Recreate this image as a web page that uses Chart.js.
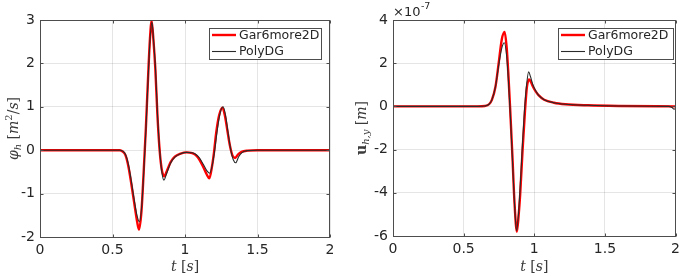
<!DOCTYPE html>
<html><head><meta charset="utf-8">
<script src="https://cdn.jsdelivr.net/npm/chart.js@4.4.1/dist/chart.umd.min.js"></script>
<style>
html,body{margin:0;padding:0;background:#fff;width:685px;height:276px;overflow:hidden}
.box{position:absolute;top:0;height:276px;width:340px}
</style></head><body>
<div class="box" style="left:0"><canvas id="c1"></canvas></div>
<div class="box" style="left:345px"><canvas id="c2"></canvas></div>
<script>
// ---- data ----
const seriesNames = ['Gar6more2D', 'PolyDG'];
const xTicks = [0, 0.5, 1, 1.5, 2];
const phiTicks = [-2, -1, 0, 1, 2, 3];
const uTicks = [-6, -4, -2, 0, 2, 4];      // in units of 1e-7 m
const uExponent = '-7';

// left panel: phi_h [m^2/s]
const tPhiGar = [0,0.5,0.55,0.57,0.59,0.61,0.63,0.65,0.67,0.683,0.70,0.715,0.73,0.745,0.758,0.77,0.782,0.795,0.81,0.825,0.84,0.857,0.875,0.9,0.93,0.97,1.01,1.05,1.08,1.1,1.125,1.15,1.168,1.185,1.2,1.215,1.235,1.258,1.275,1.29,1.31,1.328,1.345,1.365,1.39,1.43,1.5,2.0];
const phiGar  = [0,0,0,-0.03,-0.12,-0.38,-0.78,-1.22,-1.65,-1.83,-1.4,-0.5,0.5,1.65,2.55,2.98,2.55,1.9,0.8,0.0,-0.45,-0.6,-0.48,-0.28,-0.15,-0.08,-0.05,-0.07,-0.13,-0.22,-0.38,-0.56,-0.65,-0.4,-0.05,0.4,0.8,0.98,0.8,0.5,0.1,-0.13,-0.18,-0.1,-0.04,-0.01,0,0];
const tPhiPoly = [0,0.5,0.55,0.57,0.59,0.61,0.63,0.65,0.67,0.686,0.70,0.715,0.73,0.745,0.758,0.772,0.785,0.797,0.81,0.825,0.84,0.855,0.872,0.9,0.93,0.97,1.01,1.05,1.08,1.1,1.125,1.15,1.17,1.188,1.205,1.22,1.24,1.263,1.28,1.295,1.315,1.333,1.35,1.37,1.395,1.43,1.5,2.0];
const phiPoly  = [0,0,0,-0.02,-0.1,-0.33,-0.72,-1.15,-1.52,-1.65,-1.35,-0.55,0.45,1.6,2.5,2.95,2.45,1.85,0.85,0.02,-0.5,-0.69,-0.55,-0.3,-0.16,-0.08,-0.05,-0.06,-0.11,-0.18,-0.32,-0.47,-0.53,-0.35,0.0,0.4,0.82,1.0,0.8,0.45,0.02,-0.22,-0.29,-0.15,-0.05,-0.01,0,0];

// right panel: u_{h,y} [m] (x 1e-7)
const tUGar = [0,0.6,0.65,0.68,0.70,0.725,0.748,0.77,0.79,0.805,0.817,0.829,0.845,0.86,0.877,0.89,0.9,0.918,0.934,0.948,0.963,0.975,0.992,1.01,1.03,1.07,1.14,1.22,1.38,1.6,2.0];
const uGar  = [0,0,0.02,0.1,0.3,0.9,2.0,3.1,3.45,2.7,1.45,-0.07,-2.25,-4.45,-5.8,-5.0,-4.1,-1.93,-0.24,0.9,1.25,1.15,0.9,0.7,0.52,0.31,0.17,0.1,0.05,0.02,0];
const tUPoly = [0,0.6,0.65,0.68,0.70,0.725,0.748,0.77,0.788,0.805,0.817,0.829,0.845,0.86,0.875,0.888,0.898,0.915,0.93,0.945,0.96,0.972,0.99,1.01,1.03,1.07,1.14,1.22,1.38,1.6,1.95,1.975,1.99,2.0];
const uPoly  = [0,0,0.02,0.1,0.3,0.9,1.9,2.7,2.95,2.3,1.2,-0.2,-2.4,-4.5,-5.75,-5.0,-4.0,-1.9,-0.25,0.95,1.6,1.4,1.0,0.72,0.52,0.31,0.17,0.1,0.05,0.02,0,-0.05,-0.13,-0.1];

// ---- drawing ----
const INK = '#262626';
const FRAME = '#4d4d4d';
const SANS = '"DejaVu Sans", sans-serif';
const SERIF = '"DejaVu Serif", serif';
const pts = (t, v) => t.map((x, i) => ({x, y: v[i]}));

function drawSegs(ctx, segs, cx, cy, rot) {
  ctx.save();
  ctx.translate(cx, cy);
  if (rot) ctx.rotate(rot);
  ctx.textBaseline = 'alphabetic';
  ctx.fillStyle = '#3a3a3a';
  let w = 0;
  segs.forEach(s => { ctx.font = s.f; w += ctx.measureText(s.t).width; });
  let x = -w / 2;
  segs.forEach(s => { ctx.font = s.f; ctx.textAlign = 'left'; ctx.fillText(s.t, x, 5 + (s.dy || 0)); x += ctx.measureText(s.t).width; });
  ctx.restore();
}

function decor(cfg) {
  return {
    id: 'decor',
    afterDraw(chart) {
      const ctx = chart.ctx, a = chart.chartArea;
      const xs = chart.scales.x, ys = chart.scales.y;
      ctx.save();
      ctx.strokeStyle = FRAME; ctx.lineWidth = 1;
      const L0 = Math.round(a.left) + 0.5, R0 = Math.round(a.right) - 0.5, T0 = Math.round(a.top) + 0.5, B0 = Math.round(a.bottom) + 0.5;
      ctx.strokeRect(L0, T0, R0 - L0, B0 - T0);
      // inward tick marks
      ctx.beginPath();
      xTicks.forEach(v => { const px = Math.round(xs.getPixelForValue(v)) + 0.5; ctx.moveTo(px, B0); ctx.lineTo(px, B0 - 3); ctx.moveTo(px, T0); ctx.lineTo(px, T0 + 3); });
      cfg.yTicks.forEach(v => { const py = Math.round(ys.getPixelForValue(v)) + 0.5; ctx.moveTo(L0, py); ctx.lineTo(L0 + 3, py); ctx.moveTo(R0, py); ctx.lineTo(R0 - 3, py); });
      ctx.stroke();
      // legend
      const L = cfg.legend;
      ctx.fillStyle = '#fff';
      ctx.fillRect(L.x, L.y, L.w, L.h);
      ctx.strokeStyle = FRAME; ctx.lineWidth = 1;
      ctx.strokeRect(L.x + 0.5, L.y + 0.5, L.w, L.h);
      chart.data.datasets.slice().sort((p, q) => p.legendIndex - q.legendIndex).forEach((ds, i) => {
        const yy = L.y + 7 + i * 16.5;
        ctx.strokeStyle = ds.borderColor; ctx.lineWidth = ds.borderWidth;
        ctx.beginPath(); ctx.moveTo(L.x + 3, yy); ctx.lineTo(L.x + 27, yy); ctx.stroke();
        ctx.fillStyle = INK; ctx.font = '12.5px ' + SANS; ctx.textAlign = 'left'; ctx.textBaseline = 'middle';
        ctx.fillText(ds.label, L.x + 30, yy + 0.5);
      });
      // axis titles
      const big = 'italic 14px ' + SERIF, up = '14px ' + SERIF;
      drawSegs(ctx, [{t:'t', f:big},{t:' [', f:up},{t:'s', f:big},{t:']', f:up}], (a.left + a.right) / 2, 266, 0);
      drawSegs(ctx, cfg.ytitle, cfg.ytx, (a.top + a.bottom) / 2, -Math.PI / 2);
      if (cfg.exp) {
        ctx.fillStyle = INK; ctx.textAlign = 'left'; ctx.textBaseline = 'alphabetic';
        ctx.font = '13px ' + SANS; ctx.fillText('\u00d710', a.left, 16);
        const w = ctx.measureText('\u00d710').width;
        ctx.font = '9.5px ' + SANS; ctx.fillText(cfg.exp, a.left + w + 0.5, 9);
      }
      ctx.restore();
    }
  };
}

function makeChart(id, red, black, yTicks, cfg) {
  const tickFont = {family: SANS, size: 14};
  cfg.yTicks = yTicks;
  return new Chart(document.getElementById(id), {
    type: 'line',
    data: {datasets: [
      {label: seriesNames[0], data: red, borderColor: '#ff0000', borderWidth: 2.4, order: 1, legendIndex: 0},
      {label: seriesNames[1], data: black, borderColor: '#2a2a2a', borderWidth: 1.1, order: 0, legendIndex: 1}
    ]},
    options: {
      responsive: true, maintainAspectRatio: false, animation: false, devicePixelRatio: 1,
      layout: {padding: {top: 20, right: cfg.right, left: 0, bottom: 0}},
      plugins: {legend: {display: false}, tooltip: {enabled: false}},
      elements: {point: {radius: 0}, line: {cubicInterpolationMode: 'monotone', fill: false}},
      scales: {
        x: {type: 'linear', min: 0, max: 2,
            afterBuildTicks: s => { s.ticks = xTicks.map(v => ({value: v})); },
            afterFit: s => { s.height = cfg.bottom; },
            grid: {color: 'rgba(38,38,38,0.12)', drawTicks: false},
            border: {display: false},
            ticks: {font: tickFont, color: INK, padding: 5, maxRotation: 0, callback: v => String(v)}},
        y: {type: 'linear', min: yTicks[0], max: yTicks[yTicks.length - 1],
            afterBuildTicks: s => { s.ticks = yTicks.map(v => ({value: v})); },
            afterFit: s => { s.width = cfg.left; },
            grid: {color: 'rgba(38,38,38,0.12)', drawTicks: false},
            border: {display: false},
            ticks: {font: tickFont, color: INK, padding: 5, callback: v => String(v)}}
      }
    },
    plugins: [decor(cfg)]
  });
}

const big = 'italic 14px ' + SERIF, up = '14px ' + SERIF, sub = 'italic 10px ' + SERIF;
makeChart('c1', pts(tPhiGar, phiGar), pts(tPhiPoly, phiPoly), phiTicks, {
  left: 40, right: 10, bottom: 39,
  legend: {x: 209, y: 28, w: 112, h: 31},
  ytx: 13,
  ytitle: [{t:'\u03c6', f:big},{t:'h', f:sub, dy:3},{t:' [', f:up},{t:'m', f:big},{t:'2', f:'10px '+SERIF, dy:-6},{t:'/', f:up},{t:'s', f:big},{t:']', f:up}]
});
makeChart('c2', pts(tUGar, uGar), pts(tUPoly, uPoly), uTicks, {
  left: 48, right: 5, bottom: 40,
  legend: {x: 213, y: 28, w: 115, h: 31},
  ytx: 16, exp: uExponent,
  ytitle: [{t:'u', f:'bold 14px '+SERIF},{t:'h,y', f:sub, dy:3},{t:' [', f:up},{t:'m', f:big},{t:']', f:up}]
});
</script>
</body></html>
